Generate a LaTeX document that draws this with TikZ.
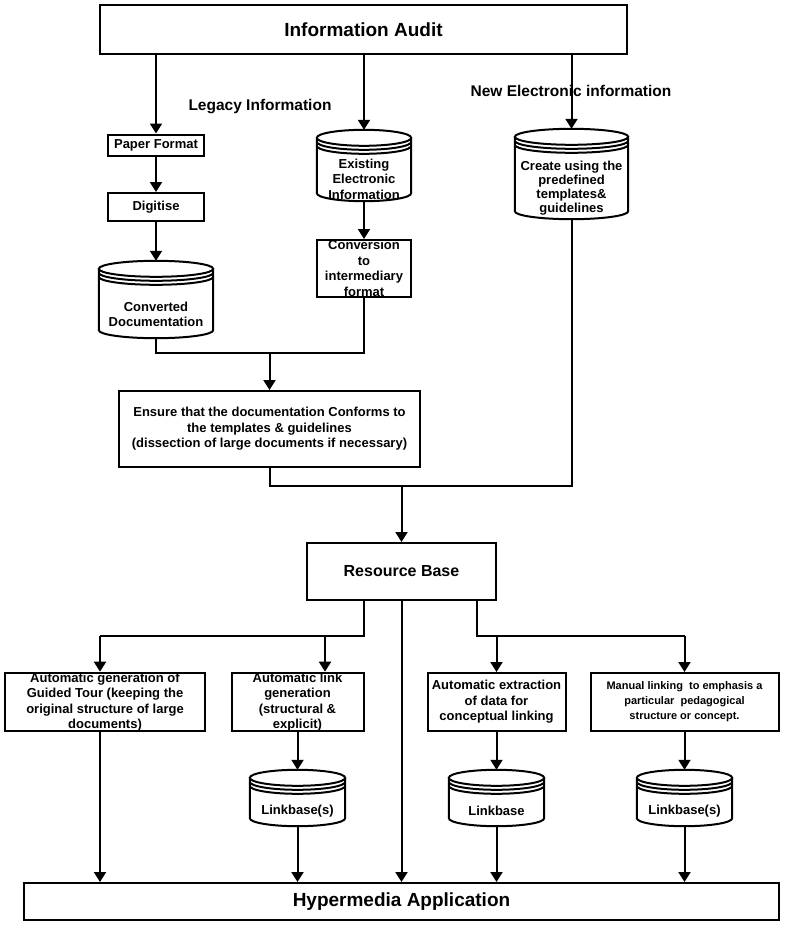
\documentclass[tikz,border=0pt]{standalone}
\usepackage{fontspec}
\setmainfont{Liberation Sans}
\usetikzlibrary{arrows.meta,calc}

\begin{document}
\begin{tikzpicture}[
  x=1pt, y=-1pt,
  >={Triangle[length=10pt,width=12pt]},
  sz/.style 2 args={minimum width=#1pt, minimum height=#2pt},
  box/.style={draw, line width=2pt, align=center, inner sep=0pt, font=\bfseries\fontsize{13}{15.5}\selectfont},
  disk/.style={inner sep=0pt},
  dtxt/.style={align=center, inner sep=0pt, font=\bfseries\fontsize{13}{15.5}\selectfont},
  lbl/.style={inner sep=0pt, font=\bfseries\fontsize{15.5}{18}\selectfont},
  ln/.style={line width=2pt},
  arr/.style={->, line width=2pt},
]
\useasboundingbox (0,0) rectangle (785,926);
\node[box, sz={527}{49}, font=\bfseries\fontsize{19}{22}\selectfont] (audit) at (363.5,29.5) {Information Audit};
\node[lbl, anchor=base] (legacy) at (260,110) {Legacy Information};
\node[lbl, anchor=base] (newinfo) at (571,96) {New Electronic information};
\node[box, sz={96}{21}] (paper) at (156,145) {Paper Format};
\node[box, sz={96}{28}] (digit) at (156,207) {Digitise};
\node[disk, sz={114}{77}] (cdoc) at (156,299.5) {};
\node[dtxt] (cdocT) at ([yshift=-15pt]cdoc.center) {Converted\\Documentation};
\node[disk, sz={94}{71}] (eei) at (364,165.5) {};
\node[dtxt] (eeiT) at ([yshift=-13.5pt]eei.center) {Existing\\Electronic\\Information};
\node[box, sz={94}{57}] (conv) at (364,268.5) {Conversion\\to\\intermediary\\format};
\node[disk, sz={113}{90}] (tmpl) at (571.5,174) {};
\node[dtxt, font=\bfseries\fontsize{13}{14}\selectfont] (tmplT) at ([yshift=-14pt]tmpl.center) {Create using the\\predefined\\templates\&\\guidelines};
\node[box, sz={301}{76}] (ensure) at (269.5,429) {Ensure that the documentation Conforms to\\the templates \& guidelines\\(dissection of large documents if necessary)};
\node[box, sz={189}{57}, font=\bfseries\fontsize{16}{19}\selectfont] (rbase) at (401.5,571.5) {Resource Base};
\node[box, sz={200}{58}] (tour) at (105,702) {Automatic generation of\\Guided Tour (keeping the\\original structure of large\\documents)};
\node[box, sz={132}{58}] (autolink) at (297.5,702) {Automatic link\\generation\\(structural \&\\explicit)};
\node[box, sz={138}{58}] (extract) at (496.5,702) {Automatic extraction\\of data for\\conceptual linking};
\node[box, sz={188}{58}, font=\bfseries\fontsize{11}{15}\selectfont] (manual) at (684.5,702) {Manual linking \ to emphasis a\\particular \ pedagogical\\structure or concept.};
\node[disk, sz={95}{56}] (lbA) at (297.5,798) {};
\node[dtxt] (lbAT) at ([yshift=-13pt]lbA.center) {Linkbase(s)};
\node[disk, sz={95}{56}] (lbB) at (496.5,798) {};
\node[dtxt] (lbBT) at ([yshift=-13pt]lbB.center) {Linkbase};
\node[disk, sz={95}{56}] (lbC) at (684.5,798) {};
\node[dtxt] (lbCT) at ([yshift=-13pt]lbC.center) {Linkbase(s)};
\node[box, sz={755}{37}, font=\bfseries\fontsize{19}{22}\selectfont] (hyper) at (401.5,901.5) {Hypermedia Application};
\foreach \d in {cdoc,eei,tmpl,lbA,lbB,lbC}
  \draw[ln] let \p1=(\d.north west), \p2=(\d.south east), \n1={(\x2-\x1)/2} in
    (\x1+\n1,\y1-8pt) ellipse [x radius=\n1, y radius=8pt]
    (\x1,\y1-8pt) -- (\x1,\y2+8pt) arc [start angle=180, end angle=360, x radius=\n1, y radius=8pt] -- (\x2,\y1-8pt)
    (\x1,\y1-12pt) arc [start angle=180, end angle=360, x radius=\n1, y radius=8pt]
    (\x1,\y1-16pt) arc [start angle=180, end angle=360, x radius=\n1, y radius=8pt];
\draw[arr] (paper |- audit.south) -- (paper);
\draw[arr] (eei |- audit.south) -- (eei);
\draw[arr] (tmpl |- audit.south) -- (tmpl);
\draw[arr] (paper) -- (digit);
\draw[arr] (digit) -- (cdoc);
\draw[arr] (eei) -- (conv);
\coordinate (m1) at (269.5,353);
\draw[ln] (cdoc) |- (m1) -| (conv);
\draw[arr] (m1) -- (ensure);
\coordinate (m2) at (401.5,486);
\draw[ln] (ensure) |- (m2) -| (tmpl);
\draw[arr] (m2) -- (rbase);
\coordinate (s1) at (364,636);
\coordinate (s2) at (477,636);
\coordinate (t1) at (100,636);
\coordinate (t2) at (325,636);
\coordinate (t3) at (496.5,636);
\coordinate (t4) at (684.5,636);
\draw[ln] (rbase.south -| s1) -- (s1) -- (t1);
\draw[ln] (rbase.south -| s2) -- (s2) -- (t4);
\draw[arr] (t1) -- (t1 |- tour.north);
\draw[arr] (t2) -- (t2 |- autolink.north);
\draw[arr] (t3) -- (extract);
\draw[arr] (t4) -- (manual);
\draw[arr] (tour.south -| t1) -- (t1 |- hyper.north);
\draw[arr] (autolink) -- (lbA);
\draw[arr] (lbA) -- (lbA |- hyper.north);
\draw[arr] (rbase) -- (rbase |- hyper.north);
\draw[arr] (extract) -- (lbB);
\draw[arr] (lbB) -- (lbB |- hyper.north);
\draw[arr] (manual) -- (lbC);
\draw[arr] (lbC) -- (lbC |- hyper.north);
\end{tikzpicture}
\end{document}
